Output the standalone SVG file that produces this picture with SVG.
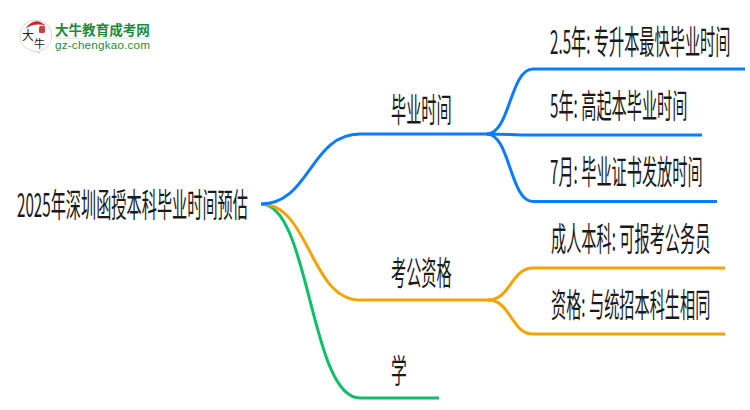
<svg xmlns="http://www.w3.org/2000/svg" width="750" height="410" viewBox="0 0 750 410">
<style>
text{font-family:"Noto Sans CJK SC","Liberation Sans",sans-serif;fill:#1a1a1a}
.l{font-size:33px}
.c{fill:none;stroke-width:3}
.b{stroke:#0a7cff}.o{stroke:#f5a300}.g{stroke:#0dbf68}
</style>
<rect width="750" height="410" fill="#fff"/>
<g id="logo">
<path d="M35 20A15.500 15.500 0 0 0 30 50L40 53L37 51.500A15.500 15.500 0 0 0 35 20Z" fill="#fff" stroke="#d8d8d8" stroke-width="1"/>
<path d="M25 29Q35 15 46 26Q35 22 25 29Z" fill="#c8281e"/>
<rect x="39" y="26" width="6" height="7" rx="1.500" fill="#d0403a"/>
<text x="22" y="40" style="font-size:12px;fill:#222">大</text>
<text x="34" y="48" style="font-size:11px;fill:#222">牛</text>
<text transform="translate(55 35) scale(1.005 1)" style="font-size:13.500px;font-weight:700;fill:#1f8a3a">大牛教育成考网</text>
<rect x="55" y="38" width="95" height="1" fill="#dfeee3"/>
<text x="55" y="49" style="font-size:11.700px;font-family:'Liberation Sans',sans-serif;fill:#1f8a3a;letter-spacing:.2px">gz-chengkao.com</text>
</g>
<g id="connectors">
<path class="c g" d="M261 204C310 204 310 398 360 398H439"/>
<path class="c o" d="M261 204C310 204 310 300 360 300H490"/>
<path class="c b" d="M261 204C310 204 310 134 360 134H490"/>
<path class="c b" d="M487 134C510 134 510 69 533 69H745"/>
<path class="c b" d="M487 134C510 134 510 135 533 135H702"/>
<path class="c b" d="M487 134C510 134 510 201.500 533 201.500H717"/>
<path class="c o" d="M488 300C511 300 511 268 533 268H725"/>
<path class="c o" d="M488 300C511 300 511 334 533 334H725"/>
</g>
<g id="root"><text class="l" transform="translate(17 217) scale(.46 1)">2025年深圳函授本科毕业时间预估</text></g>
<g id="n1"><text class="l" transform="translate(391 122) scale(.46 1)">毕业时间</text></g>
<g id="n2"><text class="l" transform="translate(391 285) scale(.46 1)">考公资格</text></g>
<g id="n3"><text class="l" transform="translate(391 383) scale(.48 1)">学</text></g>
<g id="n11"><text class="l" transform="translate(550 54) scale(.46 1)">2.5年: 专升本最快毕业时间</text></g>
<g id="n12"><text class="l" transform="translate(550 118) scale(.46 1)">5年: 高起本毕业时间</text></g>
<g id="n13"><text class="l" transform="translate(550 184) scale(.46 1)">7月: 毕业证书发放时间</text></g>
<g id="n21"><text class="l" transform="translate(551 251) scale(.46 1)">成人本科: 可报考公务员</text></g>
<g id="n22"><text class="l" transform="translate(551 317) scale(.46 1)">资格: 与统招本科生相同</text></g>
</svg>
